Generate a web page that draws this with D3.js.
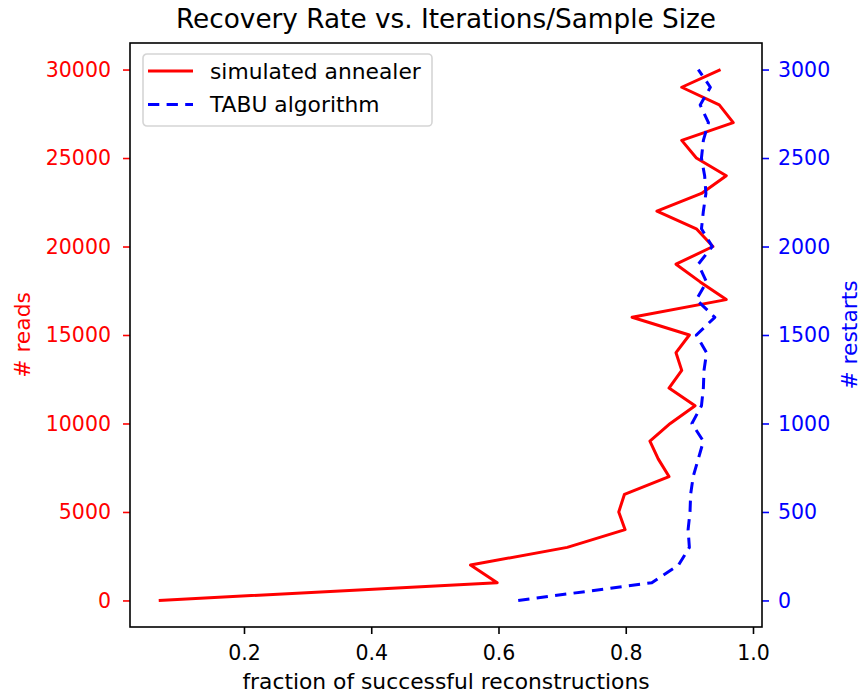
<!DOCTYPE html>
<html>
<head>
<meta charset="utf-8">
<script src="https://cdn.jsdelivr.net/npm/d3@7"></script>
<style>
  body { margin: 0; background: #fff; }
  text { font-family: "DejaVu Sans", sans-serif; }
</style>
</head>
<body>
<div id="chart-container"></div>
<script>
// Values
var reads = [0, 1000, 2000, 3000, 4000, 5000, 6000, 7000, 8000, 9000, 10000,
             11000, 12000, 13000, 14000, 15000, 16000, 17000, 18000, 19000, 20000,
             21000, 22000, 23000, 24000, 25000, 26000, 27000, 28000, 29000, 30000];
var annealerRecovery = [0.066, 0.598, 0.556, 0.708, 0.799, 0.789, 0.798, 0.868, 0.851, 0.838, 0.870,
                        0.909, 0.868, 0.888, 0.879, 0.900, 0.810, 0.958, 0.917, 0.879, 0.937,
                        0.911, 0.849, 0.919, 0.958, 0.911, 0.888, 0.969, 0.947, 0.888, 0.949];

var restarts = [0, 100, 200, 300, 400, 500, 600, 700, 800, 900, 1000,
                1100, 1200, 1300, 1400, 1500, 1600, 1700, 1800, 1900, 2000,
                2100, 2200, 2300, 2400, 2500, 2600, 2700, 2800, 2900, 3000];
var tabuRecovery = [0.631, 0.841, 0.883, 0.900, 0.898, 0.901, 0.902, 0.906, 0.914, 0.922, 0.904,
                    0.919, 0.922, 0.923, 0.927, 0.911, 0.940, 0.911, 0.927, 0.914, 0.936,
                    0.919, 0.922, 0.926, 0.924, 0.919, 0.922, 0.930, 0.917, 0.933, 0.914];

var xTicks = [0.2, 0.4, 0.6, 0.8, 1.0];
var readsTicks = [0, 5000, 10000, 15000, 20000, 25000, 30000];
var restartsTicks = [0, 500, 1000, 1500, 2000, 2500, 3000];

var seriesNames = ["simulated annealer", "TABU algorithm"];

// Pair the values up
var annealerData = reads.map(function(r, i) { return { y: r, v: annealerRecovery[i] }; });
var tabuData = restarts.map(function(r, i) { return { y: r, v: tabuRecovery[i] }; });

// Set up dimensions
var margin = {top: 43, right: 99, bottom: 69, left: 130},
    width = 861 - margin.left - margin.right,
    height = 696 - margin.top - margin.bottom;

var svg = d3.select("#chart-container")
            .append("svg")
            .attr("width", width + margin.left + margin.right)
            .attr("height", height + margin.top + margin.bottom)
            .append("g")
            .attr("transform", "translate(" + margin.left + "," + margin.top + ")");

// 5% padding like matplotlib's auto margins
function padded(ext) {
    var p = (ext[1] - ext[0]) * 0.05;
    return [ext[0] - p, ext[1] + p];
}

var x = d3.scaleLinear()
          .domain(padded(d3.extent(annealerRecovery.concat(tabuRecovery))))
          .range([0, width]);

var yReads = d3.scaleLinear()
               .domain(padded(d3.extent(reads)))
               .range([height, 0]);

var yRestarts = d3.scaleLinear()
                  .domain(padded(d3.extent(restarts)))
                  .range([height, 0]);

// Axes
var xAxis = d3.axisBottom(x).tickValues(xTicks).tickFormat(d3.format(".1f"))
              .tickSizeInner(7).tickSizeOuter(0).tickPadding(11);
var yAxisLeft = d3.axisLeft(yReads).tickValues(readsTicks).tickFormat(d3.format("d"))
                  .tickSizeInner(7).tickSizeOuter(0).tickPadding(12);
var yAxisRight = d3.axisRight(yRestarts).tickValues(restartsTicks).tickFormat(d3.format("d"))
                   .tickSizeInner(7).tickSizeOuter(0).tickPadding(9);

function styleAxis(g, color) {
    g.select(".domain").remove();
    g.selectAll(".tick line").attr("stroke", color).attr("stroke-width", 1.6);
    g.selectAll(".tick text").attr("fill", color)
     .style("font-size", "20.5px").style("font-family", "DejaVu Sans, sans-serif");
}

svg.append("g")
   .attr("class", "x axis")
   .attr("transform", "translate(0," + height + ")")
   .call(xAxis)
   .call(styleAxis, "#000");

svg.append("g")
   .attr("class", "y axis")
   .call(yAxisLeft)
   .call(styleAxis, "red");

svg.append("g")
   .attr("class", "y2 axis")
   .attr("transform", "translate(" + width + ",0)")
   .call(yAxisRight)
   .call(styleAxis, "blue");

// Lines
var annealerLine = d3.line()
                     .x(function(d) { return x(d.v); })
                     .y(function(d) { return yReads(d.y); });

var tabuLine = d3.line()
                 .x(function(d) { return x(d.v); })
                 .y(function(d) { return yRestarts(d.y); });

svg.append("path")
   .datum(annealerData)
   .attr("fill", "none")
   .attr("stroke", "red")
   .attr("stroke-width", 3)
   .attr("stroke-linejoin", "round")
   .attr("d", annealerLine);

svg.append("path")
   .datum(tabuData)
   .attr("fill", "none")
   .attr("stroke", "blue")
   .attr("stroke-width", 3)
   .attr("stroke-dasharray", "11.3,7.3")
   .attr("stroke-linejoin", "round")
   .attr("d", tabuLine);

// Frame
svg.append("rect")
   .attr("width", width)
   .attr("height", height)
   .attr("fill", "none")
   .attr("stroke", "#000")
   .attr("stroke-width", 1.6);

// Legend
var legend = svg.append("g").attr("transform", "translate(13,11)");
legend.append("rect")
      .attr("width", 289)
      .attr("height", 72)
      .attr("rx", 4)
      .attr("fill", "#fff")
      .attr("fill-opacity", 0.8)
      .attr("stroke", "#d5d5d5")
      .attr("stroke-width", 1.6);

var legendColors = ["red", "blue"];
var legendDash = [null, "11.3,7.3"];
seriesNames.forEach(function(name, i) {
    var yy = 17 + i * 33.5;
    legend.append("line")
          .attr("x1", 5).attr("x2", 50)
          .attr("y1", yy).attr("y2", yy)
          .attr("stroke", legendColors[i])
          .attr("stroke-width", 3)
          .attr("stroke-dasharray", legendDash[i]);
    legend.append("text")
          .attr("x", 67)
          .attr("y", yy + 7.5)
          .style("font-size", "21.8px")
          .attr("fill", "#000")
          .text(name);
});

// Title and labels
svg.append("text")
   .attr("x", width / 2)
   .attr("y", -15)
   .style("text-anchor", "middle")
   .style("font-size", "26.3px")
   .text("Recovery Rate vs. Iterations/Sample Size");

svg.append("text")
   .attr("x", width / 2)
   .attr("y", height + 62)
   .style("text-anchor", "middle")
   .style("font-size", "21.8px")
   .text("fraction of successful reconstructions");

svg.append("text")
   .attr("transform", "rotate(-90)")
   .attr("x", -height / 2)
   .attr("y", -100.5)
   .style("text-anchor", "middle")
   .style("font-size", "21.8px")
   .attr("fill", "red")
   .text("# reads");

svg.append("text")
   .attr("transform", "rotate(-90)")
   .attr("x", -height / 2)
   .attr("y", width + 94.5)
   .style("text-anchor", "middle")
   .style("font-size", "21.8px")
   .attr("fill", "blue")
   .text("# restarts");
</script>
</body>
</html>
